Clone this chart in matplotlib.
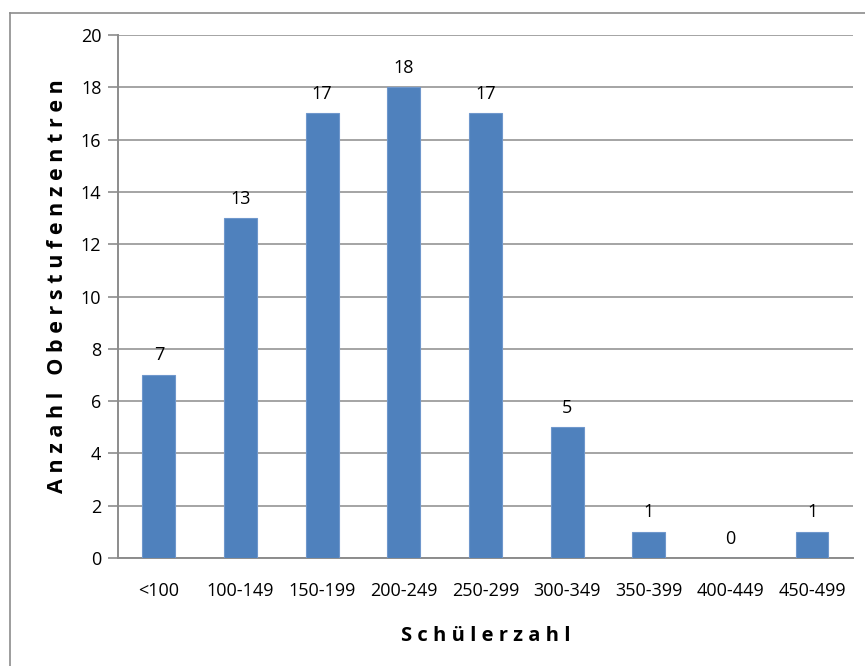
import matplotlib.pyplot as plt
from matplotlib.lines import Line2D
import numpy as np

categories = ["<100", "100-149", "150-199", "200-249", "250-299",
              "300-349", "350-399", "400-449", "450-499"]
counts = [7, 13, 17, 18, 17, 5, 1, 0, 1]
y_ticks = [0, 2, 4, 6, 8, 10, 12, 14, 16, 18, 20]

plt.rcParams["font.family"] = ["Open Sans", "DejaVu Sans"]

bar_color = "#4F81BD"
grid_color = "#8C8C8C"

fig = plt.figure(figsize=(8.65, 6.66), dpi=100)
ax = fig.add_axes([118 / 865, 1 - 558 / 666, (853 - 118) / 865, (558 - 35) / 666])

x = np.arange(len(categories))
ax.bar(x, counts, width=0.4, color=bar_color, edgecolor="#6F97CC", linewidth=0.8, zorder=3)

for xi, v in zip(x, counts):
    ax.text(xi, v + 0.4, str(v), ha="center", va="bottom", fontsize=13, color="black")

ax.set_xlim(-0.5, len(categories) - 0.5)
ax.set_ylim(0, 20)
ax.set_yticks(y_ticks)
ax.set_yticklabels([str(t) for t in y_ticks], fontsize=13)
ax.set_xticks(x)
ax.set_xticklabels(categories, fontsize=13)
ax.tick_params(axis="x", length=0, pad=17)
ax.tick_params(axis="y", length=7, color=grid_color, width=1.2, pad=5)

ax.yaxis.grid(True, color=grid_color, linewidth=1.1, zorder=0)
ax.set_axisbelow(True)
for side in ["top", "right"]:
    ax.spines[side].set_visible(False)
for side in ["left", "bottom"]:
    ax.spines[side].set_color(grid_color)
    ax.spines[side].set_linewidth(1.4)

ax.set_xlabel("S c h ü l e r z a h l", fontsize=14.5, fontweight="bold", labelpad=19)
ax.set_ylabel("A n z a h l   O b e r s t u f e n z e n t r e n", fontsize=15.5,
              fontweight="bold")
ax.yaxis.set_label_coords(-0.068, 0.52)

# outer chart frame (only left and top edges visible in the crop)
fig.add_artist(Line2D([9.5 / 865, 9.5 / 865], [0, 1 - 12.5 / 666],
                      transform=fig.transFigure, color=grid_color, linewidth=1.2))
fig.add_artist(Line2D([9.5 / 865, 1], [1 - 12.5 / 666, 1 - 12.5 / 666],
                      transform=fig.transFigure, color=grid_color, linewidth=1.2))

fig.savefig("out.png", dpi=100)
